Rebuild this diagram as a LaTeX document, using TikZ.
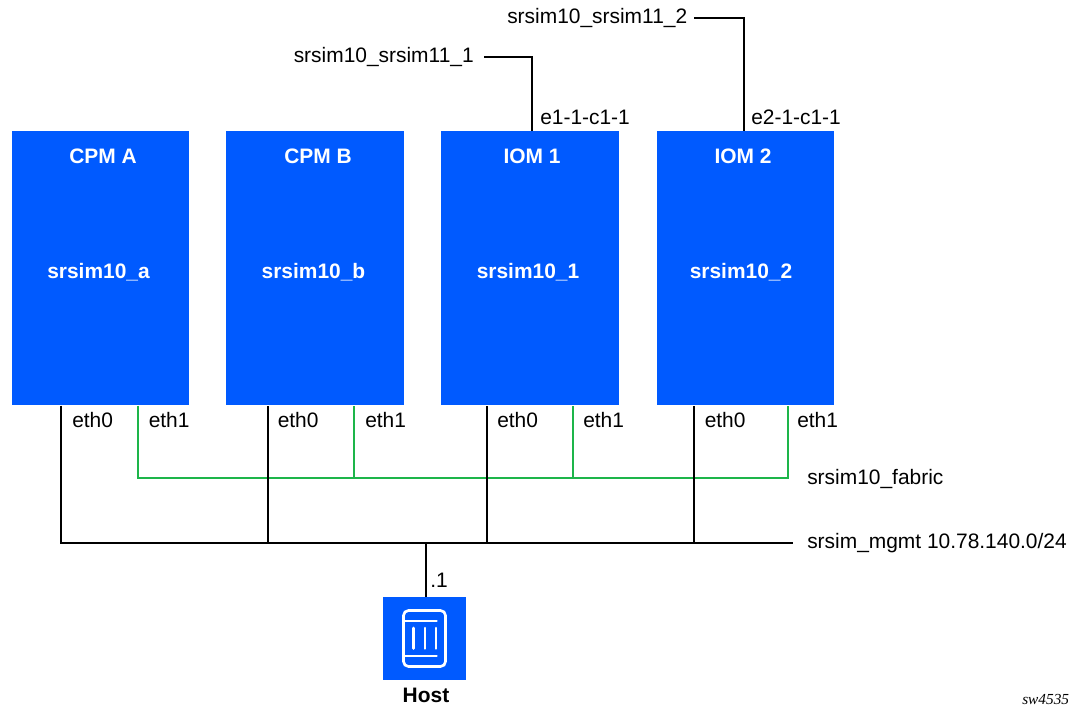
\documentclass[tikz,border=0pt]{standalone}
\usepackage{fontspec}
\setmainfont{Liberation Sans}
\newfontfamily\tagfont{Liberation Serif}
\definecolor{nblue}{HTML}{005AFF}
\definecolor{ngreen}{HTML}{1DB54A}
\tikzset{
  card/.style={fill=nblue,draw=none,minimum width=177\pxu,minimum height=274\pxu,inner sep=0pt,anchor=north west},
  cardtext/.style={text=white,font=\fontsize{15.7pt}{18pt}\selectfont\bfseries,inner sep=0pt,anchor=base},
  lbl/.style={text=black,font=\fontsize{15.7pt}{18pt}\selectfont,inner sep=0pt,anchor=base west},
  mgmtwire/.style={draw=black,line width=2.2pt,line join=miter},
  fabwire/.style={draw=ngreen,line width=1.9pt,line join=miter},
  iconline/.style={draw=white,line width=2pt,line cap=round}
}
\newlength{\pxu}\setlength{\pxu}{0.75pt}
\begin{document}
\begin{tikzpicture}[x=0.75pt,y=-0.75pt]
\useasboundingbox (0,0) rectangle (1070,706);
% cards
\node[card] (cpma) at (12,131) {};
\node[card,minimum width=178\pxu] (cpmb) at (226,131) {};
\node[card,minimum width=178\pxu] (iom1) at (441,131) {};
\node[card] (iom2) at (657,131) {};
\node[cardtext] (t1) at (103,163) {CPM A};
\node[cardtext] (t2) at (318,163) {CPM B};
\node[cardtext] (t3) at (532,163) {IOM 1};
\node[cardtext] (t4) at (743,163) {IOM 2};
\node[cardtext] (n1) at (98.5,278) {srsim10\_a};
\node[cardtext] (n2) at (313.5,278) {srsim10\_b};
\node[cardtext] (n3) at (528,278) {srsim10\_1};
\node[cardtext] (n4) at (741,278) {srsim10\_2};
% host
\node[fill=nblue,minimum width=83\pxu,minimum height=83\pxu,inner sep=0pt,anchor=north west] (host) at (383,597) {};
\node[font=\fontsize{15.7pt}{18pt}\selectfont\bfseries,inner sep=0pt,anchor=base] (hostl) at (426,702) {Host};
\draw[iconline,rounded corners=5\pxu] (403.5,610.5) rectangle (445.5,666.5);
\draw[iconline] (404,621) -- (436.5,621);
\draw[iconline] (404,656) -- (436.5,656);
\draw[iconline] (413.5,628) -- (413.5,648.5);
\draw[iconline] (425,628) -- (425,648.5);
\draw[iconline] (436,628) -- (436,648.5);
% coordinates
\coordinate (bus0) at (61,543);
\coordinate (busend) at (793,543);
\coordinate (fab0) at (138,478);
\coordinate (fabend) at (788,478);
% fabric wires
\draw[fabwire] (cpma.south west -| fab0) -- (fab0) -- (fabend) -- (iom2.south west -| fabend);
\coordinate (f2) at (354,478);
\coordinate (f3) at (573,478);
\draw[fabwire] (f2) -- (f2 |- cpmb.south);
\draw[fabwire] (f3) -- (f3 |- iom1.south);
% mgmt wires
\draw[mgmtwire] (cpma.south -| bus0) -- (bus0) -- (busend);
\coordinate (m2) at (268,543);
\coordinate (m3) at (487,543);
\coordinate (m4) at (694,543);
\coordinate (mh) at (426,543);
\draw[mgmtwire] (m2) -- (m2 |- cpmb.south);
\draw[mgmtwire] (m3) -- (m3 |- iom1.south);
\draw[mgmtwire] (m4) -- (m4 |- iom2.south);
\draw[mgmtwire] (mh) -- (mh |- host.north);
% uplinks
\coordinate (u1) at (484,57);
\coordinate (u1c) at (532,57);
\coordinate (u2) at (694,18);
\coordinate (u2c) at (744,18);
\draw[mgmtwire] (u1) -- (u1c) -- (u1c |- iom1.north);
\draw[mgmtwire] (u2) -- (u2c) -- (u2c |- iom2.north);
% labels
\node[lbl] (l1) at (293.5,63) {srsim10\_srsim11\_1};
\node[lbl] (l2) at (507,24) {srsim10\_srsim11\_2};
\node[lbl] (p1) at (540,124.5) {e1-1-c1-1};
\node[lbl] (p2) at (751,124.5) {e2-1-c1-1};
\node[lbl] (e1) at (72,427.5) {eth0};
\node[lbl] (e2) at (148.5,427.5) {eth1};
\node[lbl] (e3) at (277.5,427.5) {eth0};
\node[lbl] (e4) at (365,427.5) {eth1};
\node[lbl] (e5) at (497,427.5) {eth0};
\node[lbl] (e6) at (583,427.5) {eth1};
\node[lbl] (e7) at (704.5,427.5) {eth0};
\node[lbl] (e8) at (797,427.5) {eth1};
\node[lbl] (fabl) at (807,484) {srsim10\_fabric};
\node[lbl] (mgl) at (807,548) {srsim\_mgmt 10.78.140.0/24};
\node[lbl] (dot1) at (430,587) {.1};
\node[text=black,font=\tagfont\fontsize{11.5pt}{12pt}\selectfont\itshape,inner sep=0pt,anchor=base west] (tag) at (1022,704.5) {sw4535};
\end{tikzpicture}
\end{document}
